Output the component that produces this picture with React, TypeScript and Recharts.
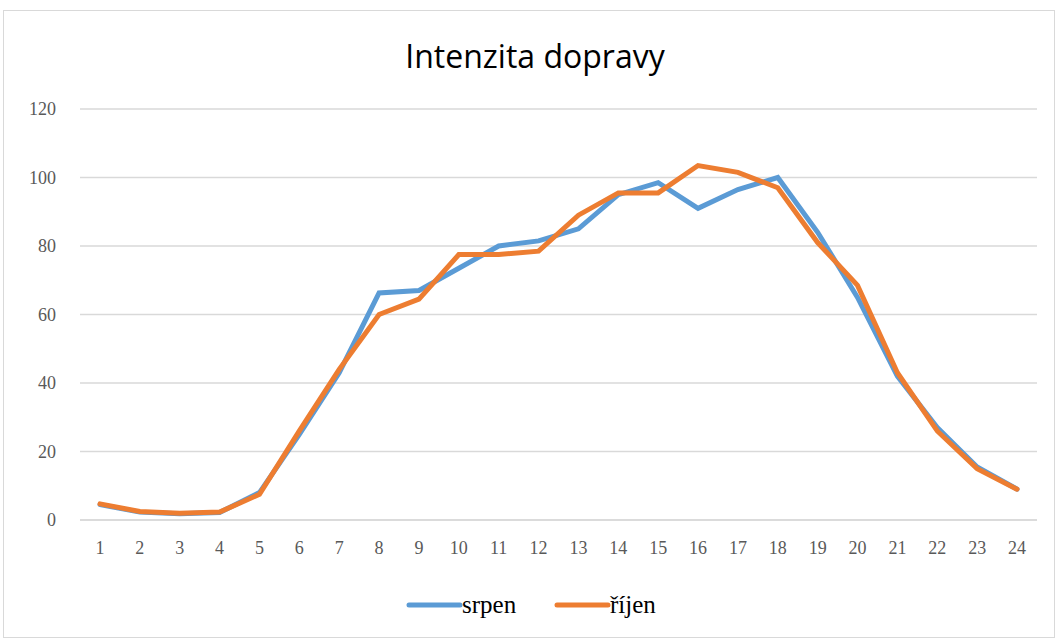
import { LineChart, Line, XAxis, YAxis, CartesianGrid, Legend } from 'recharts';

const hours = ['1', '2', '3', '4', '5', '6', '7', '8', '9', '10', '11', '12', '13', '14', '15', '16', '17', '18', '19', '20', '21', '22', '23', '24'];
const srpen = [4.5, 2.3, 1.8, 2.2, 8, 25, 43, 66.3, 67, 73.5, 80, 81.5, 85, 95, 98.5, 91, 96.5, 100, 84, 65, 42, 27, 15.5, 9];
const rijen = [4.7, 2.5, 2, 2.3, 7.5, 26, 44, 60, 64.5, 77.5, 77.5, 78.5, 89, 95.5, 95.5, 103.5, 101.5, 97, 81, 68.5, 43, 26, 15, 9];
const yTicks = [0, 20, 40, 60, 80, 100, 120];

const BLUE = '#5B9BD5';
const ORANGE = '#ED7D31';

const data = hours.map((h, i) => ({ hour: h, srpen: srpen[i], rijen: rijen[i] }));

const serif = "'Liberation Serif', 'Times New Roman', serif";

function LegendBox() {
  const items = [
    { name: 'srpen', color: BLUE },
    { name: 'říjen', color: ORANGE },
  ];
  return (
    <svg width={1057} height={59} style={{ display: 'block', fontFamily: 'serif' }}>
      <g transform="translate(407, 45)">
        {items.map((it, i) => (
          <g key={it.name} transform={`translate(${i * 148}, 0)`}>
            <line x1={2} x2={53} y1={0} y2={0} stroke={it.color} strokeWidth={5} strokeLinecap="round" />
            <text x={55} y={8} fontFamily="serif" fontSize={25} fill="#000">
              {it.name}
            </text>
          </g>
        ))}
      </g>
    </svg>
  );
}

export default function App() {
  return (
    <div style={{ position: 'absolute', left: 0, top: 0, width: 1057, height: 639, background: '#fff' }}>
      <div
        style={{
          position: 'absolute',
          left: 3,
          top: 10,
          width: 1052,
          height: 628,
          border: '1px solid #d9d9d9',
          boxSizing: 'border-box',
        }}
      />
      <div
        style={{
          position: 'absolute',
          left: 0,
          width: 1070,
          top: 34,
          textAlign: 'center',
          fontFamily: "'Open Sans', sans-serif",
          fontSize: 32,
          color: '#000',
        }}
      >
        Intenzita dopravy
      </div>
      <div style={{ position: 'absolute', left: 0, top: 0 }}>
        <LineChart width={1057} height={639} data={data} margin={{ top: 109, right: 20, left: 0, bottom: 20 }}>
          <CartesianGrid vertical={false} stroke="#d9d9d9" strokeWidth={1.5} />
          <XAxis
            dataKey="hour"
            axisLine={{ stroke: '#d9d9d9', strokeWidth: 1.5 }}
            tickLine={false}
            tick={{ fill: '#595959', fontFamily: serif, fontSize: 18 }}
            tickMargin={15}
            height={40}
            padding={{ left: 20, right: 20 }}
          />
          <YAxis
            domain={[0, 120]}
            ticks={yTicks}
            axisLine={false}
            tickLine={false}
            tick={{ fill: '#595959', fontFamily: serif, fontSize: 18 }}
            tickMargin={18}
            width={80}
          />
          <Legend verticalAlign="bottom" height={59} wrapperStyle={{ left: 0 }} content={() => <LegendBox />} />
          <Line type="linear" dataKey="srpen" name="srpen" stroke={BLUE} strokeWidth={5} dot={false} isAnimationActive={false} strokeLinecap="round" />
          <Line type="linear" dataKey="rijen" name="říjen" stroke={ORANGE} strokeWidth={5} dot={false} isAnimationActive={false} strokeLinecap="round" />
        </LineChart>
      </div>
    </div>
  );
}
